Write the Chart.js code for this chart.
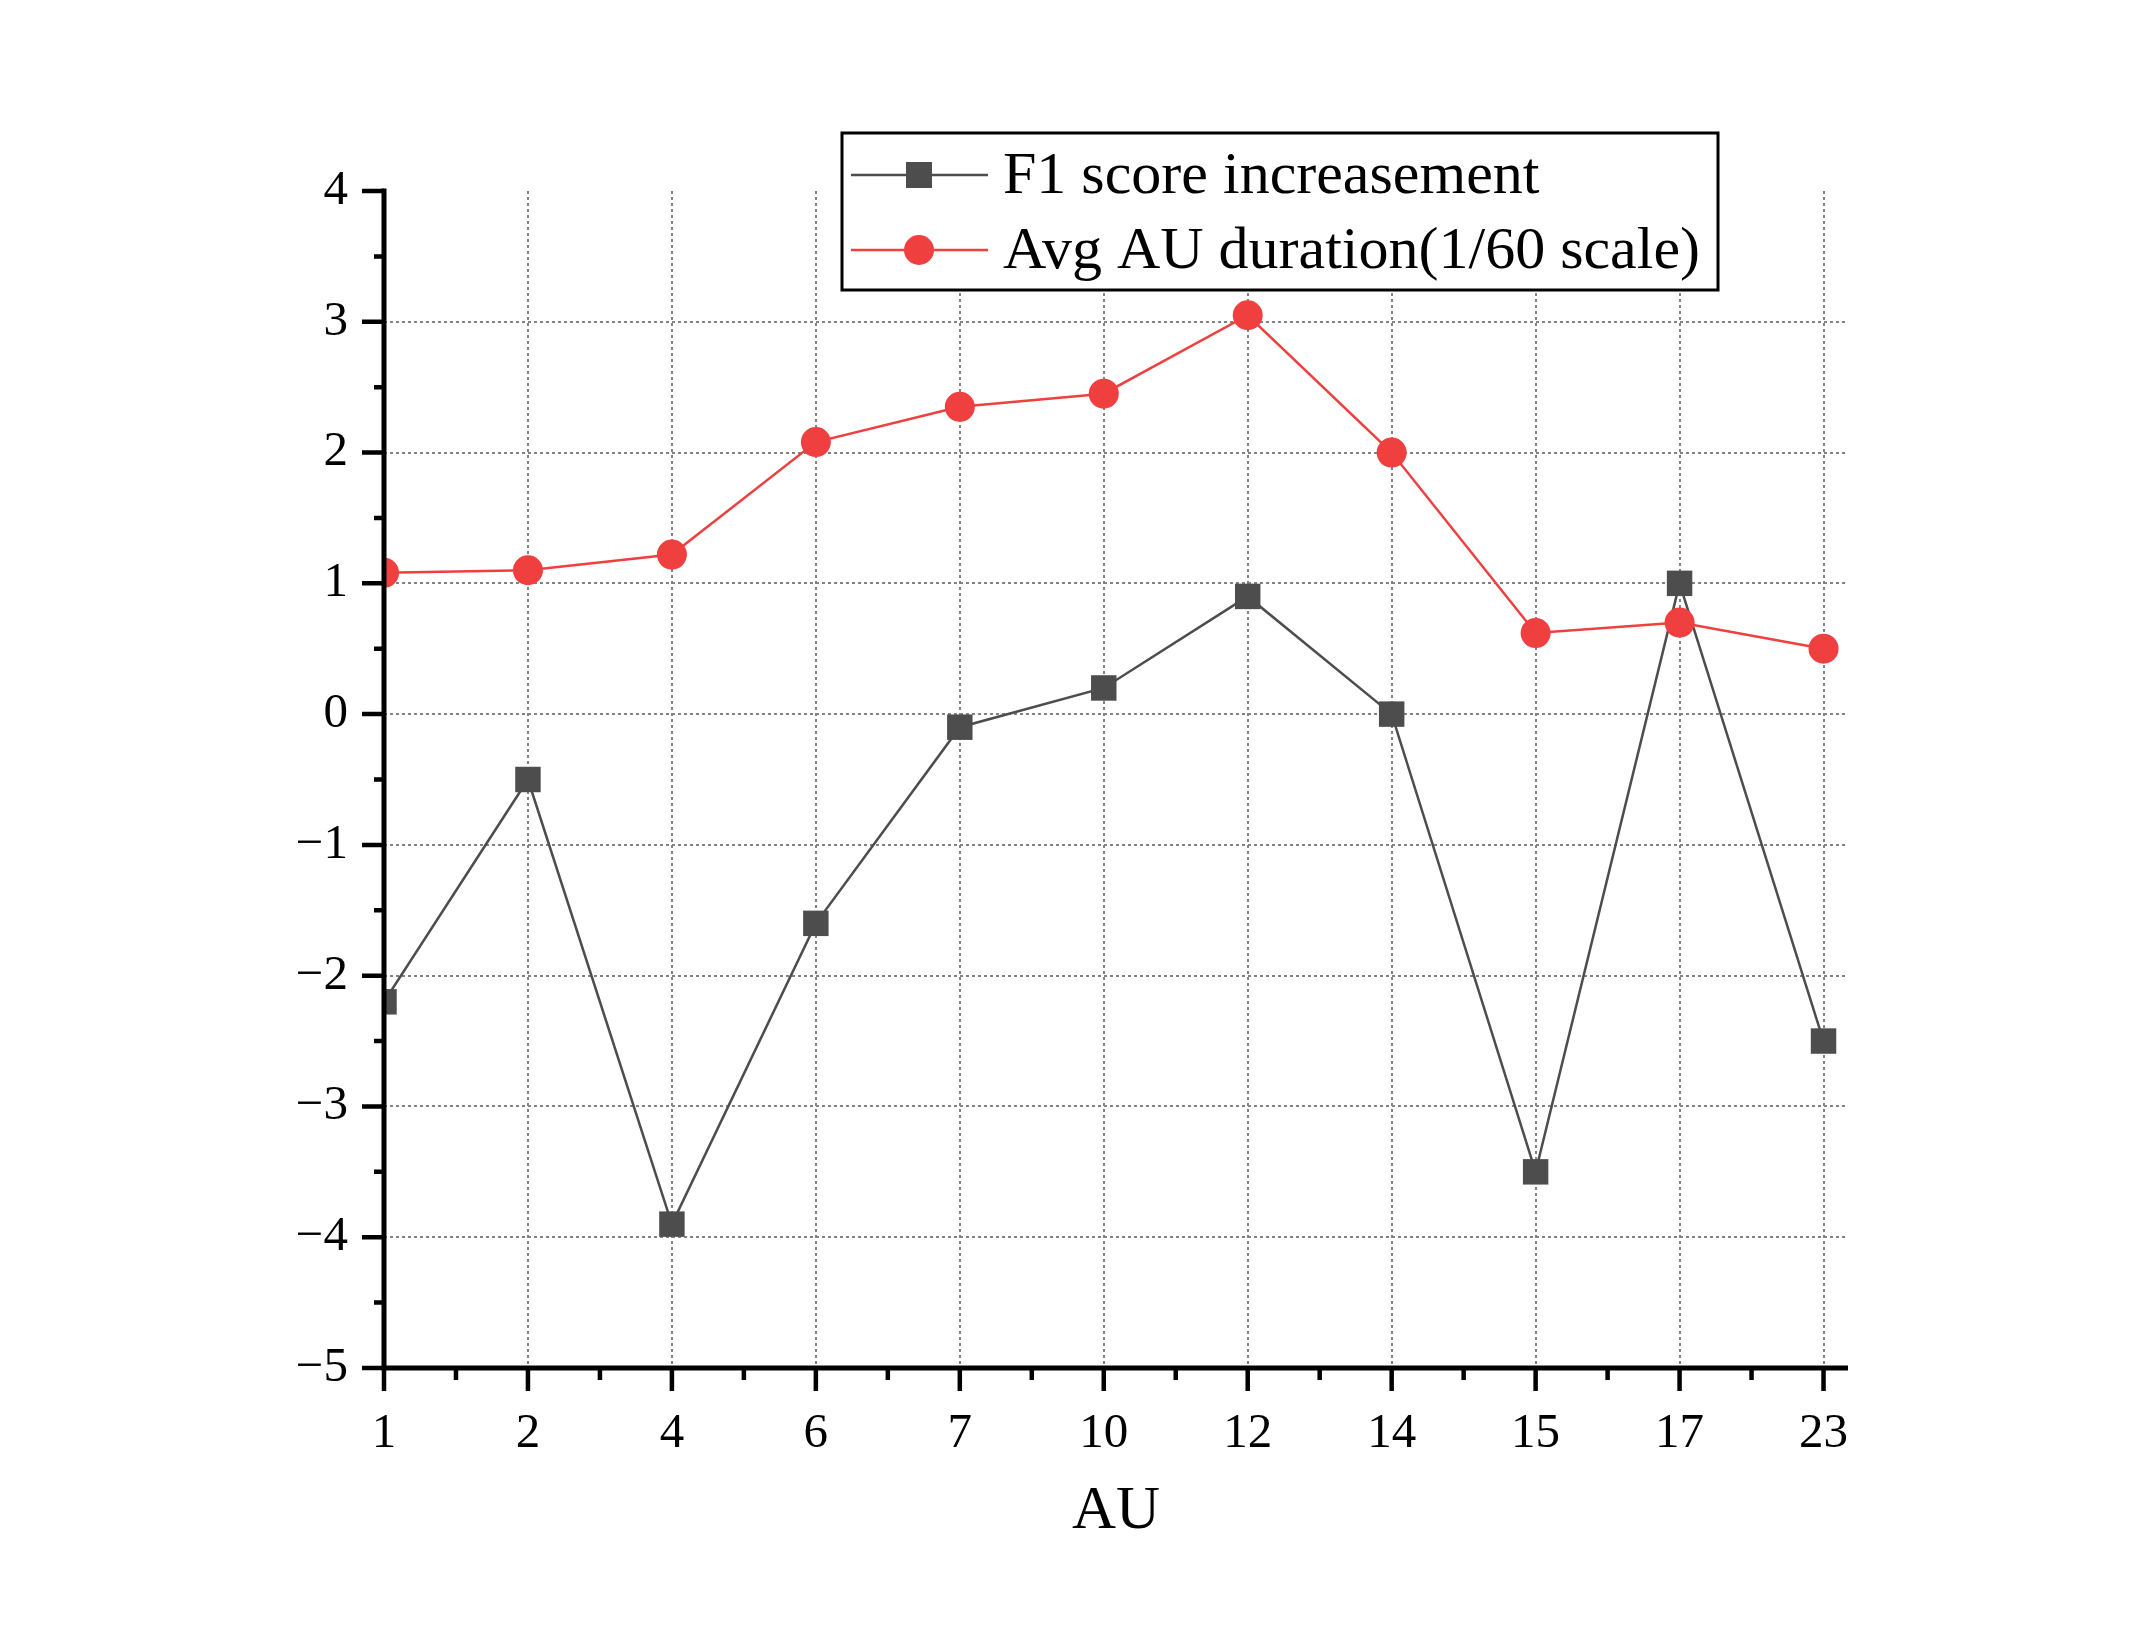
<!DOCTYPE html>
<html>
<head>
<meta charset="utf-8">
<script src="https://cdn.jsdelivr.net/npm/chart.js@4.4.1/dist/chart.umd.min.js"></script>
<style>
  html, body { margin: 0; padding: 0; background: #fff; }
  canvas { display: block; }
</style>
</head>
<body>
<canvas id="au" width="2145" height="1642"></canvas>
<script>
let auLabels = ['1', '2', '4', '6', '7', '10', '12', '14', '15', '17', '23'];
let f1Increase = [-2.2, -0.5, -3.9, -1.6, -0.1, 0.2, 0.9, 0, -3.5, 1.0, -2.5];
let avgDuration = [1.08, 1.1, 1.22, 2.08, 2.35, 2.45, 3.05, 2.0, 0.62, 0.7, 0.5];
let yMin = -5;
let yMax = 4;

const serif = "'Liberation Serif', 'Times New Roman', serif";
const darkGrey = '#4d4d4d';
const red = '#ef3f3f';

// thick origin-style axes with major + minor ticks
const axesPlugin = {
    id: 'originAxes',
    afterDatasetsDraw(chart) {
        const { ctx, scales: { x, y } } = chart;
        const x0 = x.getPixelForValue(0);
        const yBottom = y.getPixelForValue(yMin);
        ctx.save();
        ctx.strokeStyle = '#000';
        ctx.lineWidth = 5;
        ctx.beginPath();
        ctx.moveTo(x0, y.getPixelForValue(yMax) - 2.5);
        ctx.lineTo(x0, yBottom + 2.5);
        ctx.moveTo(x0, yBottom);
        ctx.lineTo(x.right, yBottom);
        ctx.stroke();

        ctx.lineWidth = 4.5;
        ctx.beginPath();
        for (let v = yMin; v <= yMax; v += 0.5) {
            const py = y.getPixelForValue(v);
            const len = Number.isInteger(v) ? 22 : 10;
            ctx.moveTo(x0, py);
            ctx.lineTo(x0 - len, py);
        }
        for (let i = 0; i < auLabels.length; i++) {
            const px = x.getPixelForValue(i);
            ctx.moveTo(px, yBottom);
            ctx.lineTo(px, yBottom + 23);
            if (i < auLabels.length - 1) {
                const mx = x.getPixelForValue(i + 0.5);
                ctx.moveTo(mx, yBottom);
                ctx.lineTo(mx, yBottom + 12);
            }
        }
        ctx.stroke();
        ctx.restore();
    }
};

// boxed legend inside the plot
const boxLegend = {
    id: 'boxLegend',
    afterDraw(chart) {
        const ctx = chart.ctx;
        const left = 842, top = 133, right = 1718, bottom = 290;
        const rows = [175, 250];
        ctx.save();
        ctx.fillStyle = '#fff';
        ctx.fillRect(left, top, right - left, bottom - top);
        ctx.strokeStyle = '#000';
        ctx.lineWidth = 3;
        ctx.strokeRect(left, top, right - left, bottom - top);
        chart.data.datasets.forEach((ds, i) => {
            const cy = rows[i];
            ctx.strokeStyle = ds.borderColor;
            ctx.lineWidth = ds.borderWidth;
            ctx.beginPath();
            ctx.moveTo(851, cy);
            ctx.lineTo(988, cy);
            ctx.stroke();
            ctx.fillStyle = ds.backgroundColor;
            if (ds.pointStyle === 'rect') {
                ctx.fillRect(919 - 13, cy - 13, 26, 26);
            } else {
                ctx.beginPath();
                ctx.arc(919, cy, 15, 0, Math.PI * 2);
                ctx.fill();
            }
            ctx.fillStyle = '#000';
            ctx.font = '60px ' + serif;
            ctx.textBaseline = 'middle';
            ctx.textAlign = 'left';
            ctx.fillText(ds.label, 1003, cy + 2);
        });
        ctx.restore();
    }
};

let auCtx = document.getElementById('au').getContext('2d');
let auChart = new Chart(auCtx, {
    type: 'line',
    data: {
        datasets: [{
            label: 'F1 score increasement',
            data: f1Increase.map((v, i) => ({ x: i, y: v })),
            borderColor: darkGrey,
            backgroundColor: darkGrey,
            borderWidth: 2.5,
            pointStyle: 'rect',
            pointRadius: 18,
            pointBorderWidth: 0,
            order: 1
        }, {
            label: 'Avg AU duration(1/60 scale)',
            data: avgDuration.map((v, i) => ({ x: i, y: v })),
            borderColor: red,
            backgroundColor: red,
            borderWidth: 2.5,
            pointStyle: 'circle',
            pointRadius: 15,
            pointBorderWidth: 0,
            order: 0
        }]
    },
    options: {
        responsive: false,
        animation: false,
        devicePixelRatio: 1,
        layout: { padding: { left: 0, right: 297, top: 191, bottom: 0 } },
        plugins: {
            legend: { display: false },
            tooltip: { enabled: false }
        },
        scales: {
            x: {
                type: 'linear',
                min: 0,
                max: 10.17,
                afterBuildTicks: (s) => { s.ticks = auLabels.map((_, i) => ({ value: i })); },
                afterFit: (s) => { s.height = 274; },
                border: { display: false, dash: [3, 3] },
                grid: {
                    drawTicks: false,
                    lineWidth: 2,
                    color: (c) => c.tick && c.tick.value === 0 ? 'rgba(0,0,0,0)' : '#828282'
                },
                ticks: {
                    autoSkip: false,
                    maxRotation: 0,
                    padding: 37,
                    color: '#000',
                    font: { family: serif, size: 49 },
                    callback: (v) => auLabels[v]
                },
                title: {
                    display: true,
                    text: 'AU',
                    color: '#000',
                    font: { family: serif, size: 61 },
                    padding: { top: 0, bottom: 93 }
                }
            },
            y: {
                min: yMin,
                max: yMax,
                afterFit: (s) => { s.width = 384; },
                border: { display: false, dash: [3, 3] },
                grid: {
                    drawTicks: false,
                    lineWidth: 2,
                    color: (c) => c.tick && (c.tick.value === yMax || c.tick.value === yMin) ? 'rgba(0,0,0,0)' : '#828282'
                },
                ticks: {
                    stepSize: 1,
                    padding: 36,
                    color: '#000',
                    font: { family: serif, size: 49 },
                    callback: (v) => v < 0 ? '\u2212' + Math.abs(v) : String(v)
                }
            }
        }
    },
    plugins: [axesPlugin, boxLegend]
});
</script>
</body>
</html>
